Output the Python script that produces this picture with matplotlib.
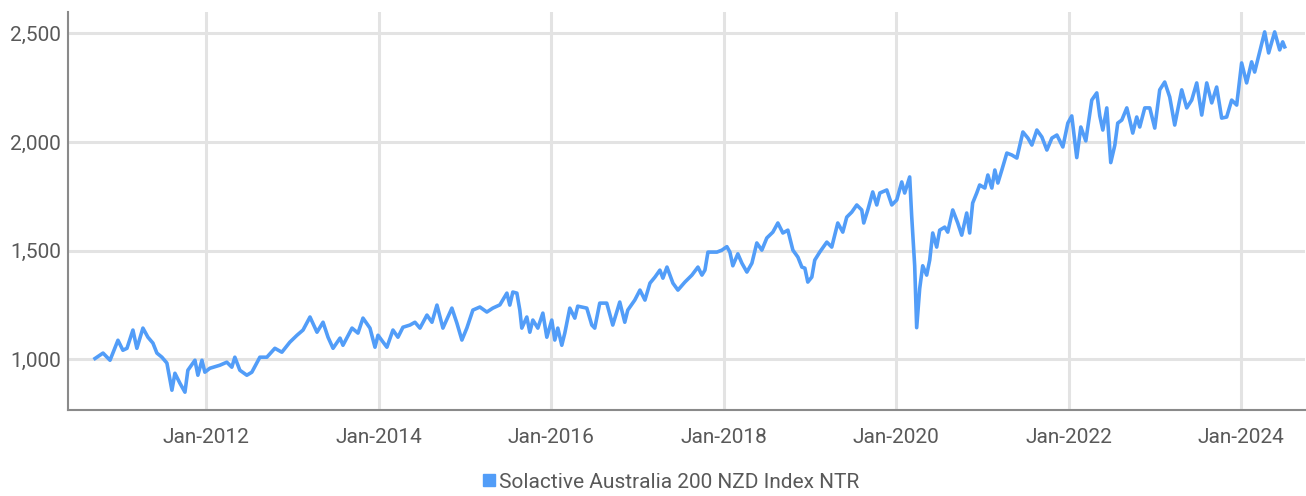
#!/usr/bin/env python3
"""Solactive Australia 200 NZD Index NTR -- index level line chart."""
import matplotlib
matplotlib.use("Agg")
import matplotlib.pyplot as plt
import matplotlib.dates as mdates
from matplotlib.lines import Line2D
from matplotlib.ticker import FuncFormatter
import pandas as pd

SERIES_NAME = "Solactive Australia 200 NZD Index NTR"

# dates as decimal years
DATE_YEARS = [
    2010.714, 2010.807, 2010.888, 2010.980, 2011.038, 2011.085, 2011.154, 2011.200,
    2011.270, 2011.328, 2011.386, 2011.432, 2011.490, 2011.548, 2011.606, 2011.641,
    2011.699, 2011.757, 2011.791, 2011.873, 2011.907, 2011.954, 2011.988, 2012.046,
    2012.162, 2012.243, 2012.301, 2012.336, 2012.394, 2012.475, 2012.533, 2012.626,
    2012.707, 2012.800, 2012.881, 2012.973, 2013.054, 2013.124, 2013.205, 2013.286,
    2013.356, 2013.414, 2013.472, 2013.553, 2013.587, 2013.692, 2013.761, 2013.819,
    2013.900, 2013.958, 2013.993, 2014.097, 2014.167, 2014.225, 2014.283, 2014.364,
    2014.422, 2014.480, 2014.561, 2014.619, 2014.677, 2014.746, 2014.850, 2014.908,
    2014.966, 2015.024, 2015.094, 2015.175, 2015.256, 2015.325, 2015.407, 2015.488,
    2015.522, 2015.557, 2015.604, 2015.638, 2015.661, 2015.719, 2015.754, 2015.789,
    2015.847, 2015.905, 2015.951, 2016.009, 2016.044, 2016.079, 2016.125, 2016.160,
    2016.218, 2016.276, 2016.310, 2016.415, 2016.473, 2016.507, 2016.565, 2016.646,
    2016.716, 2016.797, 2016.855, 2016.890, 2016.971, 2017.029, 2017.087, 2017.145,
    2017.203, 2017.260, 2017.295, 2017.342, 2017.411, 2017.469, 2017.550, 2017.631,
    2017.701, 2017.747, 2017.782, 2017.817, 2017.921, 2017.979, 2018.037, 2018.072,
    2018.106, 2018.164, 2018.211, 2018.269, 2018.327, 2018.384, 2018.442, 2018.500,
    2018.570, 2018.628, 2018.686, 2018.744, 2018.802, 2018.860, 2018.906, 2018.941,
    2018.975, 2019.022, 2019.056, 2019.114, 2019.196, 2019.253, 2019.323, 2019.381,
    2019.427, 2019.485, 2019.543, 2019.601, 2019.624, 2019.671, 2019.728, 2019.775,
    2019.810, 2019.891, 2019.949, 2020.007, 2020.065, 2020.099, 2020.157, 2020.180,
    2020.215, 2020.238, 2020.273, 2020.308, 2020.354, 2020.389, 2020.424, 2020.470,
    2020.505, 2020.563, 2020.598, 2020.656, 2020.714, 2020.760, 2020.818, 2020.852,
    2020.887, 2020.934, 2020.968, 2021.026, 2021.061, 2021.107, 2021.142, 2021.177,
    2021.223, 2021.281, 2021.339, 2021.397, 2021.432, 2021.467, 2021.525, 2021.571,
    2021.629, 2021.687, 2021.745, 2021.803, 2021.861, 2021.930, 2021.988, 2022.034,
    2022.092, 2022.139, 2022.197, 2022.266, 2022.324, 2022.359, 2022.394, 2022.440,
    2022.486, 2022.533, 2022.567, 2022.614, 2022.672, 2022.706, 2022.741, 2022.787,
    2022.822, 2022.880, 2022.938, 2022.996, 2023.054, 2023.112, 2023.170, 2023.228,
    2023.309, 2023.367, 2023.425, 2023.483, 2023.541, 2023.599, 2023.657, 2023.714,
    2023.772, 2023.830, 2023.888, 2023.946, 2024.004, 2024.062, 2024.120, 2024.155,
    2024.213, 2024.271, 2024.317, 2024.387, 2024.445, 2024.480, 2024.503,
]

INDEX_LEVEL = [
    1003, 1028, 995, 1087, 1041, 1050, 1134, 1050,
    1143, 1101, 1074, 1028, 1009, 982, 857, 935,
    889, 848, 949, 995, 926, 995, 940, 958,
    972, 986, 963, 1009, 949, 926, 940, 1009,
    1009, 1050, 1032, 1078, 1110, 1134, 1194, 1124,
    1170, 1101, 1050, 1097, 1064, 1143, 1120, 1189,
    1143, 1055, 1110, 1055, 1134, 1101, 1147, 1157,
    1170, 1143, 1203, 1170, 1249, 1143, 1235, 1166,
    1088, 1143, 1226, 1240, 1217, 1235, 1250, 1304,
    1249, 1309, 1304, 1226, 1143, 1194, 1124, 1180,
    1143, 1212, 1101, 1180, 1088, 1143, 1064, 1120,
    1235, 1189, 1244, 1235, 1157, 1143, 1258, 1258,
    1157, 1263, 1170, 1226, 1272, 1318, 1272, 1350,
    1378, 1410, 1373, 1424, 1350, 1318, 1355, 1387,
    1424, 1387, 1410, 1493, 1493, 1502, 1518, 1493,
    1430, 1485, 1442, 1401, 1442, 1535, 1502, 1558,
    1585, 1627, 1581, 1594, 1502, 1470, 1424, 1419,
    1355, 1378, 1456, 1493, 1539, 1516, 1627, 1585,
    1654, 1677, 1710, 1687, 1627, 1687, 1770, 1710,
    1765, 1779, 1710, 1733, 1816, 1765, 1839, 1660,
    1430, 1145, 1325, 1430, 1387, 1456, 1581, 1516,
    1594, 1608, 1585, 1687, 1627, 1571, 1673, 1581,
    1719, 1765, 1802, 1788, 1848, 1788, 1871, 1811,
    1871, 1949, 1940, 1926, 1986, 2046, 2018, 1986,
    2055, 2023, 1963, 2018, 2032, 1977, 2087, 2120,
    1928, 2069, 2005, 2193, 2226, 2120, 2055, 2157,
    1905, 1985, 2087, 2101, 2157, 2101, 2041, 2115,
    2069, 2157, 2157, 2064, 2240, 2276, 2207, 2078,
    2240, 2157, 2193, 2272, 2124, 2272, 2180, 2253,
    2110, 2115, 2193, 2170, 2364, 2272, 2369, 2322,
    2415, 2507, 2410, 2507, 2424, 2461, 2438,
]

Y_TICKS = [1000, 1500, 2000, 2500]

LINE_COLOR = "#529df8"
TEXT_COLOR = "#595959"
GRID_COLOR = "#e3e3e3"
FONT = ["Roboto", "DejaVu Sans"]


def to_date(d):
    year = int(d)
    return pd.Timestamp(year, 1, 1) + pd.Timedelta(days=(d - year) * 365.25)


dates = [to_date(d) for d in DATE_YEARS]

plt.rcParams["font.family"] = FONT

fig = plt.figure(figsize=(13.06, 4.96), dpi=100)
ax = fig.add_axes([0.052, 0.173, 0.947, 0.803])

ax.plot(dates, INDEX_LEVEL, color=LINE_COLOR, lw=2.6, solid_joinstyle="round", zorder=3)

ax.set_xlim(to_date(2010.40), to_date(2024.735))
ax.set_ylim(765, 2599)
ax.set_yticks(Y_TICKS)
ax.yaxis.set_major_formatter(FuncFormatter(lambda v, _: f"{v:,.0f}"))
ax.xaxis.set_major_locator(mdates.YearLocator(2))
ax.xaxis.set_major_formatter(mdates.DateFormatter("%b-%Y"))

ax.grid(True, color=GRID_COLOR, lw=2.2, zorder=0)
ax.set_axisbelow(True)
ax.tick_params(axis="both", length=0, labelsize=15, colors=TEXT_COLOR)
ax.tick_params(axis="x", pad=13)
ax.tick_params(axis="y", pad=5)

for side in ("top", "right"):
    ax.spines[side].set_visible(False)
for side in ("left", "bottom"):
    ax.spines[side].set_color("#8a8a8a")
    ax.spines[side].set_linewidth(1.5)

handle = Line2D([], [], marker="s", ls="none", color=LINE_COLOR, markersize=8)
fig.legend([handle], [SERIES_NAME], loc="center", bbox_to_anchor=(669 / 1306, 1 - 482 / 496),
           frameon=False, handletextpad=0.0, handlelength=1.0, fontsize=15, labelcolor=TEXT_COLOR)

fig.savefig("out.png", dpi=100)
plt.close(fig)
